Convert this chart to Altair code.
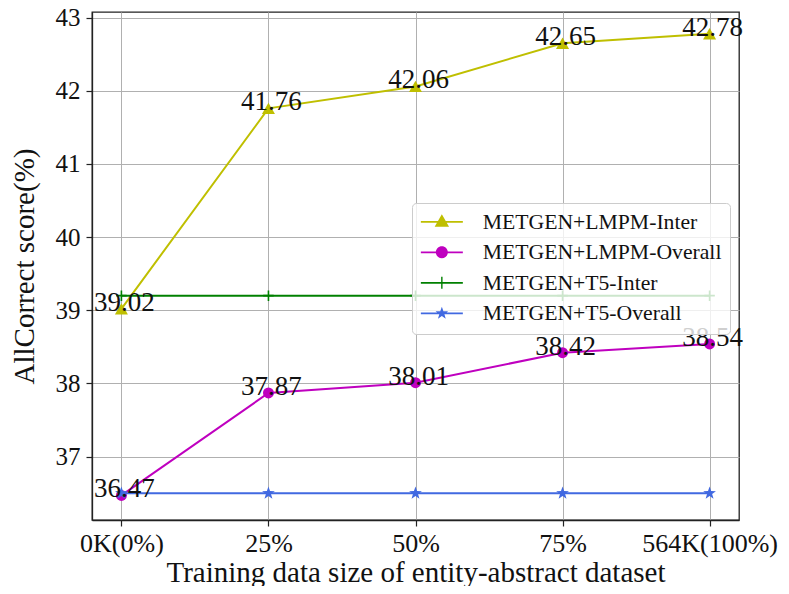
import math
import altair as alt
import pandas as pd

# ---- data ----
x_index = [0, 1, 2, 3, 4]
x_labels = ["0K(0%)", "25%", "50%", "75%", "564K(100%)"]
series_names = ["METGEN+LMPM-Inter", "METGEN+LMPM-Overall", "METGEN+T5-Inter", "METGEN+T5-Overall"]
lmpm_inter = [39.02, 41.76, 42.06, 42.65, 42.78]
lmpm_overall = [36.47, 37.87, 38.01, 38.42, 38.54]
t5_inter = [39.2, 39.2, 39.2, 39.2, 39.2]
t5_overall = [36.5, 36.5, 36.5, 36.5, 36.5]
y_ticks = [37, 38, 39, 40, 41, 42, 43]
colors = ["#bfbf00", "#bf00bf", "#008000", "#4169e1"]

rows = []
for name, vals in zip(series_names, [lmpm_inter, lmpm_overall, t5_inter, t5_overall]):
    for xi, v in zip(x_index, vals):
        rows.append({"x": xi, "value": v, "series": name})
df = pd.DataFrame(rows)

FONT = "Liberation Serif"


def star_path(outer, inner):
    pts = []
    for k in range(10):
        ang = -math.pi / 2 + k * math.pi / 5
        r = outer if k % 2 == 0 else inner
        pts.append(f"{r*math.cos(ang):.3f},{r*math.sin(ang):.3f}")
    return "M" + "L".join(pts) + "Z"


# ---- legend symbols (line + marker) ----
line_p = "M-2.1,-0.09H2.1V0.09H-2.1Z"
tri_p = "M0,-0.75L0.72,0.5L-0.72,0.5Z"
circ_p = "M0.6,0A0.6,0.6 0 1,1 -0.6,0A0.6,0.6 0 1,1 0.6,0Z"
plus_p = "M-0.07,-0.6H0.07V0.6H-0.07Z"
sym_paths = [line_p + tri_p, line_p + circ_p, line_p + plus_p, line_p + star_path(0.66, 0.27)]

color_scale = alt.Scale(domain=series_names, range=colors)

x_enc = alt.X(
    "x:Q",
    scale=alt.Scale(domain=[-0.2, 4.2], nice=False, zero=False),
    axis=alt.Axis(
        values=x_index,
        labelExpr="[" + ",".join(f"'{l}'" for l in x_labels) + "][datum.value]",
        title="Training data size of entity-abstract dataset",
        labelFontSize=26,
        labelPadding=4,
        titlePadding=2,
    ),
)
y_enc = alt.Y(
    "value:Q",
    scale=alt.Scale(domain=[36.134, 43.077], nice=False, zero=False),
    axis=alt.Axis(values=y_ticks, format="d", title="AllCorrect score(%)",
                  labelFontSize=25, labelPadding=6, titlePadding=16),
)

base = alt.Chart(df)

legend = alt.Legend(
    title=None,
    orient="none",
    legendX=320,
    legendY=191,
    direction="vertical",
    symbolSize=400,
    symbolOffset=11,
    symbolStrokeWidth=0,
    symbolOpacity=1,
    labelOffset=30,
    labelFontSize=21.7,
    labelFont=FONT,
    labelColor="#111",
    labelLimit=0,
    rowPadding=7.5,
    padding=8,
    fillColor="rgba(255,255,255,0.8)",
    strokeColor="#cccccc",
    cornerRadius=4,
)

marker_styles = [
    dict(shape="triangle-up", filled=True, size=170),
    dict(shape="circle", filled=True, size=120),
    dict(shape="M-1,0H1M0,-1V1", filled=False, size=110, strokeWidth=1.6),
    dict(shape=star_path(1.0, 0.4), filled=True, size=180),
]

layers = []
for name, col, ms in zip(series_names, colors, marker_styles):
    sub = base.transform_filter(alt.datum.series == name)
    layers.append(sub.mark_line(strokeWidth=2, color=col).encode(x=x_enc, y=y_enc))
    layers.append(sub.mark_point(opacity=1, color=col, **ms).encode(x=x_enc, y=y_enc))

texts = base.transform_filter(
    (alt.datum.series == series_names[0]) | (alt.datum.series == series_names[1])
).mark_text(
    align="center", baseline="alphabetic", dx=3, dy=2, fontSize=27, font=FONT, color="#111"
).encode(
    x=x_enc, y=y_enc, text=alt.Text("value:Q", format=".2f")
)

legend_layer = base.transform_filter("false").mark_point(filled=True, opacity=1).encode(
    x=x_enc,
    y=y_enc,
    color=alt.Color("series:N", scale=color_scale, legend=legend),
    shape=alt.Shape("series:N", scale=alt.Scale(domain=series_names, range=sym_paths), legend=legend),
)

chart = alt.layer(*layers, texts, legend_layer).properties(
    width=647,
    height=508,
    autosize=alt.AutoSizeParams(type="none"),
    padding={"left": 84, "top": 4, "right": 40, "bottom": 66},
).configure(
    font=FONT,
).configure_view(
    stroke="#222", strokeWidth=1.3
).configure_axis(
    labelFont=FONT,
    titleFont=FONT,
    titleFontSize=29,
    titleFontWeight="normal",
    labelColor="#111",
    titleColor="#111",
    domainColor="#222",
    domainWidth=1.3,
    tickColor="#222",
    tickSize=6,
    tickWidth=1.2,
    gridColor="#b0b0b0",
    gridWidth=1,
)

chart.save("out.html", embed_options={"renderer": "svg", "actions": False})
